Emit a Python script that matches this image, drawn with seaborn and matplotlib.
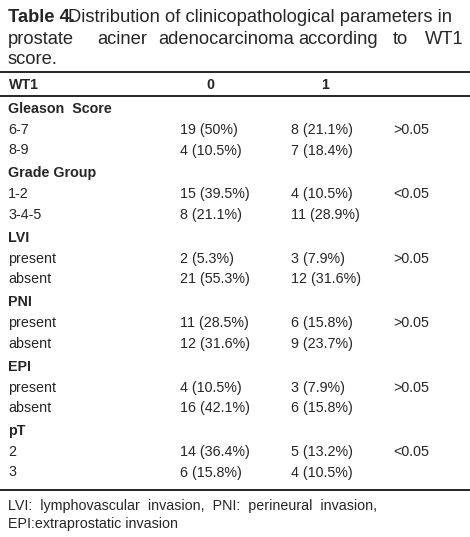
import matplotlib.pyplot as plt
import seaborn as sns

# DATA
groups = ["Gleason  Score", "Grade Group", "LVI", "PNI", "EPI", "pT"]
sub_labels = [["6-7", "8-9"], ["1-2", "3-4-5"], ["present", "absent"],
              ["present", "absent"], ["present", "absent"], ["2", "3"]]
wt1_0 = [["19 (50%)", "4 (10.5%)"], ["15 (39.5%)", "8 (21.1%)"], ["2 (5.3%)", "21 (55.3%)"],
         ["11 (28.5%)", "12 (31.6%)"], ["4 (10.5%)", "16 (42.1%)"], ["14 (36.4%)", "6 (15.8%)"]]
wt1_1 = [["8 (21.1%)", "7 (18.4%)"], ["4 (10.5%)", "11 (28.9%)"], ["3 (7.9%)", "12 (31.6%)"],
         ["6 (15.8%)", "9 (23.7%)"], ["3 (7.9%)", "6 (15.8%)"], ["5 (13.2%)", "4 (10.5%)"]]
p_values = [">0.05", "<0.05", ">0.05", ">0.05", ">0.05", "<0.05"]
header = ["WT1", "0", "1"]
footnote = ["LVI:  lymphovascular  invasion,  PNI:  perineural  invasion,",
            "EPI:extraprostatic invasion"]

sns.set_theme(style="white")
plt.rcParams['font.family'] = ['Liberation Sans', 'DejaVu Sans']

W, H = 470, 537
fig = plt.figure(figsize=(W / 100, H / 100), dpi=100)
ax = fig.add_axes([0, 0, 1, 1])
ax.set_xlim(0, W)
ax.set_ylim(H, 0)
ax.axis("off")

fs = 10.3
tfs = 13.2

# title (justified lines)
ax.text(8, 18, "Table 4.", fontsize=tfs, fontweight="bold", va="center")
ax.text(452, 18, "Distribution of clinicopathological parameters in",
        fontsize=tfs, va="center", ha="right")
line2 = ["prostate", "aciner", "adenocarcinoma", "according", "to", "WT1"]
x2 = [8, 97, 158, 298, 393, 425]
for w, x in zip(line2, x2):
    ax.text(x, 40, w, fontsize=tfs, va="center")
ax.text(8, 60, "score.", fontsize=tfs, va="center")

# rules
for y in [72, 96, 490]:
    ax.plot([0, W], [y, y], color="black", lw=1.2)

ax.text(9, 85, header[0], fontsize=fs, fontweight="bold", va="center")
ax.text(210, 85, header[1], fontsize=fs, fontweight="bold", va="center", ha="center")
ax.text(325, 85, header[2], fontsize=fs, fontweight="bold", va="center", ha="center")

y = 109
for g, subs, v0, v1, p in zip(groups, sub_labels, wt1_0, wt1_1, p_values):
    ax.text(8, y, g, fontsize=fs, fontweight="bold", va="center")
    for i in range(2):
        yy = y + 21 + 20.5 * i
        ax.text(8, yy, subs[i], fontsize=fs, va="center")
        ax.text(180, yy, v0[i], fontsize=fs, va="center")
        ax.text(291, yy, v1[i], fontsize=fs, va="center")
        if i == 0:
            ax.text(393, yy, p, fontsize=fs, va="center")
    y += 64.4

ax.text(8, 506, footnote[0], fontsize=fs, va="center")
ax.text(8, 524, footnote[1], fontsize=fs, va="center")

fig.savefig("out.png", dpi=100, facecolor="white")
